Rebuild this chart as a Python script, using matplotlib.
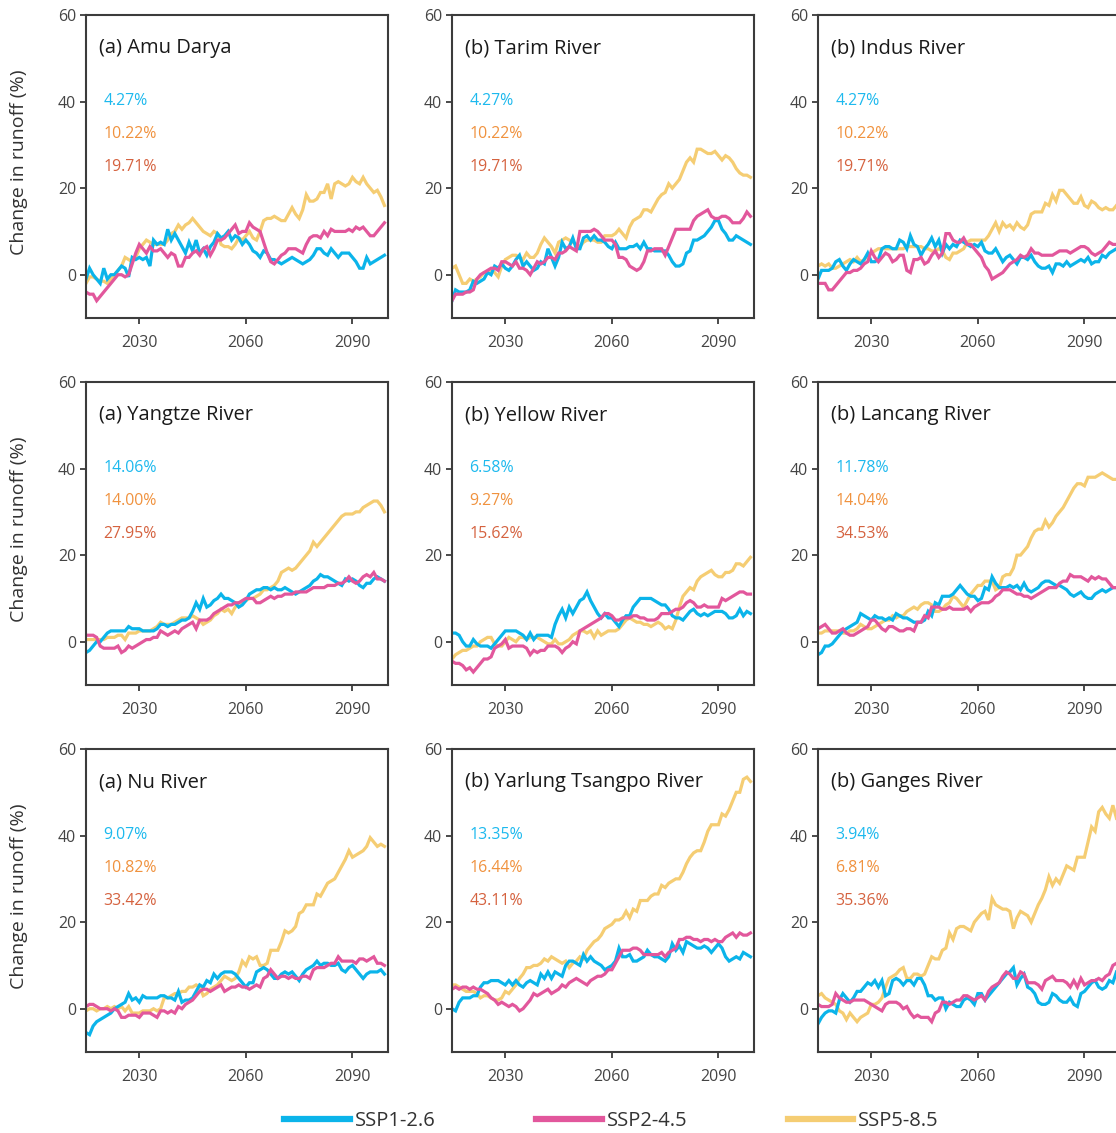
import numpy as np
import matplotlib
matplotlib.use("Agg")
import matplotlib.pyplot as plt
from matplotlib.lines import Line2D

plt.rcParams['font.family'] = ['Open Sans', 'DejaVu Sans']

years = np.arange(2015, 2100)

# yearly runoff change (%) per basin and scenario
amu_126 = [-1, 1.5, 0, -1, -2, 1.5, -1, 0, 0, 1,
           2, 1.5, -0.5, 4, 3.5, 4, 3.5, 4, 2, 8,
           7, 7.5, 7, 10.5, 8, 9.5, 8, 6.5, 5, 7.5,
           5.5, 8, 5, 6, 4.5, 6.5, 7.5, 9.5, 8.5, 9,
           10, 8, 9, 8.5, 7, 8, 7, 5.5, 5, 4,
           5.5, 5, 3.5, 3.5, 3, 2.5, 3, 3.5, 4, 3.5,
           3, 2.5, 3, 3.5, 4.5, 6, 6, 5, 4.5, 6,
           5, 4, 5, 5, 5, 4, 3, 1.5, 1.5, 4,
           2.5, 3, 3.5, 4, 4.5]
amu_245 = [-4, -4.5, -4.5, -6, -5, -4, -3, -2, -1, 0,
           0, -0.5, 0, 2.5, 5, 7, 6, 5, 6.5, 5.5,
           5.5, 6, 5, 4, 5, 4.5, 2, 2, 4, 4,
           5, 5.5, 4.5, 6, 6.5, 4.5, 6, 8, 8, 8.5,
           9.5, 10.5, 11.5, 9.5, 10, 10, 12, 11, 10.5, 10,
           7.5, 5, 3, 2.5, 3.5, 4.5, 5, 6, 6, 6,
           5.5, 5, 7, 8.5, 9, 9, 8.5, 10, 9, 10.5,
           10, 10, 10, 10, 10.5, 10, 11, 10.5, 11, 10,
           9, 9, 10, 11, 12]
amu_585 = [-2, -0.5, -0.5, -1, -1.5, -1.5, -2, -1, 0, 1,
           2, 4, 3.5, 3, 4, 6, 7, 8, 7.5, 7,
           7, 7, 7, 8, 9.5, 10, 11.5, 10.5, 11.5, 12,
           13, 12, 11, 10, 9.5, 9, 10, 9.5, 7, 6.5,
           6.5, 6, 7, 8.5, 8, 9, 10, 8.5, 8, 10,
           12.5, 13, 13, 13.5, 13, 12.5, 12.5, 14, 15.5, 14,
           13, 15, 18.5, 17, 17, 17.5, 19, 19, 21, 17.5,
           21, 21.5, 21, 20.5, 21, 22.5, 21.5, 21, 22.5, 21,
           20, 19, 19.5, 18, 16]

tarim_126 = [-6, -3.5, -4, -4, -4, -3.5, -1.5, -2, -1.5, -1,
             0.5, 0, 2, 1.5, 2.5, 1.5, 1, 2, 3.5, 4.5,
             2, 3, 2, 1, 1.5, 3, 2.5, 6, 4, 2,
             4, 7.5, 6, 6.5, 8.5, 6, 6, 8.5, 9, 8,
             9, 8, 8, 7.5, 6.5, 6, 7.5, 6, 6, 6,
             6.5, 6.5, 7, 6, 7.5, 6, 6, 5.5, 5.5, 5.5,
             5.5, 4.5, 3, 2, 2, 2.5, 5, 5.5, 8, 8,
             8.5, 9, 10, 11, 12.5, 12.5, 10.5, 9.5, 8, 8,
             9, 8.5, 8, 7.5, 7]
tarim_245 = [-6, -4.5, -4.5, -4.5, -4, -4, -3.5, -1, 0, 0.5,
             1, 1.5, 1.5, 1, 3, 3, 2.5, 2, 3, 1.5,
             1.5, 1, 0, 1.5, 3, 2.5, 3, 4, 4, 3.5,
             5, 5, 5.5, 6.5, 6, 5.5, 10, 10, 10, 10,
             10.5, 10, 9, 8, 8, 8, 7, 4, 4, 3.5,
             2, 1.5, 1, 1.5, 3, 5.5, 5.5, 6, 6, 6,
             4.5, 6.5, 8.5, 10.5, 10.5, 10.5, 10.5, 10.5, 12.5, 13.5,
             14, 14.5, 15, 13.5, 13, 13, 13.5, 13.5, 13, 12,
             12, 12, 13, 14.5, 13.5]
tarim_585 = [1.5, 2, 0, -2, -2, -1, -1.5, -1, -0.5, 0.5,
             0.5, 1, 0.5, -0.5, 2, 3.5, 4, 4.5, 4.5, 4,
             3.5, 5, 4, 4, 5, 7, 8.5, 7.5, 6.5, 5,
             7.5, 8, 8.5, 8, 7.5, 7, 6.5, 7.5, 8, 8,
             8, 7.5, 7.5, 9, 9, 9, 9.5, 10.5, 9.5, 8.5,
             11, 12.5, 13, 13.5, 15, 15, 14.5, 16, 17.5, 18.5,
             19, 21, 20, 21, 22, 24, 26, 27, 26, 29,
             29, 28.5, 28, 28, 28.5, 27.5, 26.5, 27.5, 27, 26,
             24.5, 23.5, 23, 23, 22.5]

indus_126 = [-1, 1, 1, 1, 1.5, 3, 3.5, 2, 1, 2.5,
             3.5, 3, 2.5, 3.5, 5, 3, 3, 3.5, 6, 6.5,
             6.5, 6, 6, 8, 7.5, 6, 9, 7, 6.5, 4.5,
             6, 7, 8.5, 6.5, 8, 5, 7, 6, 7, 6.5,
             8, 7.5, 7, 6.5, 7, 6.5, 7.5, 5.5, 5, 5,
             6, 4.5, 3, 4, 4.5, 3.5, 2.5, 4, 4, 3.5,
             4.5, 3, 2, 1.5, 1.5, 2, 0.5, 2.5, 2.5, 2,
             3, 2, 2.5, 3, 3.5, 3, 4, 2.5, 3, 3,
             4.5, 4, 5, 5.5, 6]
indus_245 = [-2, -2, -2, -3.5, -3.5, -2.5, -1.5, -0.5, 0.5, 0.5,
             1, 1, 1.5, 2.5, 3, 5.5, 4, 3, 4, 5,
             4.5, 3, 3.5, 4.5, 4.5, 1, 0.5, 3.5, 3.5, 4,
             2.5, 3, 4.5, 5.5, 4, 5, 9.5, 9.5, 8, 7.5,
             7.5, 8.5, 7, 7, 6, 5, 4, 2, 1, -1,
             -0.5, 0, 0.5, 1.5, 2.5, 3, 3.5, 4.5, 4, 4.5,
             6, 5, 5, 4.5, 4.5, 4.5, 4.5, 5, 5.5, 5.5,
             5.5, 5, 5.5, 6, 6.5, 6.5, 6, 5, 4.5, 5,
             5.5, 6.5, 7.5, 7, 7]
indus_585 = [2, 2.5, 2, 2.5, 1.5, 1.5, 2, 2.5, 3, 3.5,
             3, 4, 3, 3.5, 4.5, 5, 5.5, 6, 6, 6,
             6, 6, 6, 6, 6, 6.5, 6.5, 6.5, 6.5, 6.5,
             6, 6, 5.5, 5.5, 6, 5.5, 4, 3.5, 5, 5,
             5.5, 6, 7.5, 8, 8, 8, 8, 8, 9, 10.5,
             12, 10, 12, 11, 11.5, 10.5, 12, 11, 10.5, 11.5,
             14, 14.5, 14.5, 14.5, 16.5, 16, 18.5, 17, 19.5, 19.5,
             18.5, 17.5, 16.5, 16.5, 18, 16, 15.5, 17, 16.5, 15.5,
             15, 15.5, 15, 15, 16]

yangtze_126 = [-2.5, -2, -1, 0, 0, 1, 2, 2.5, 2.5, 2.5,
               2.5, 2.5, 3.5, 3, 3, 3, 2.5, 2.5, 2.5, 2.5,
               3, 4, 4, 3.5, 4, 4, 4.5, 5, 5, 5.5,
               7, 9, 7.5, 10, 8, 8.5, 9.5, 10, 11, 10,
               10, 9.5, 9, 8, 8.5, 9.5, 11, 11.5, 12, 12,
               12.5, 12.5, 12, 12.5, 12, 12, 12.5, 12, 11.5, 11,
               11.5, 12, 12.5, 13, 14, 14.5, 15.5, 15, 15, 14.5,
               14, 13.5, 13, 14.5, 14, 14.5, 14, 13, 12.5, 13.5,
               13.5, 14.5, 15, 14.5, 14]
yangtze_245 = [1.5, 1.5, 1.5, 1, -1, -1.5, -1.5, -1.5, -1.5, -1,
               -2.5, -2, -1, -1.5, -1, -0.5, 0, 0.5, 0.5, 1,
               1, 2.5, 2, 1.5, 2, 2.5, 2, 3, 3.5, 4,
               4.5, 3, 5, 5, 5, 5.5, 6.5, 7, 7.5, 8,
               8.5, 8.5, 9, 9, 9.5, 10, 10, 10, 9, 9,
               9.5, 10, 10.5, 10, 10.5, 10.5, 11, 11, 11, 11.5,
               11.5, 11.5, 11.5, 12, 12.5, 12.5, 12.5, 12.5, 13, 13,
               13, 13.5, 13.5, 14, 15, 14, 13.5, 14, 15, 15.5,
               15, 16, 14.5, 14.5, 14]
yangtze_585 = [0.5, 0.5, 0.5, 0.5, 0.5, 0.5, 1, 1, 1, 1.5,
               1.5, 0.5, 2, 2, 2, 2.5, 2.5, 2.5, 2.5, 3,
               3.5, 4.5, 4, 4, 4, 4.5, 5, 5.5, 5.5, 5.5,
               6, 5.5, 5, 4, 4.5, 5, 6, 6.5, 7.5, 7,
               7.5, 6.5, 8, 9, 9, 9.5, 10, 10, 10.5, 11,
               12, 12, 12.5, 13, 14, 16, 16.5, 17, 16.5, 17,
               18, 19, 20, 21, 23, 22, 23, 24, 25, 26,
               27, 28, 29, 29.5, 29.5, 29.5, 30, 30, 31, 31.5,
               32, 32.5, 32.5, 31.5, 30]

yellow_126 = [2, 2, 1.5, 0, -1, -1, 0.5, -0.5, -1, -1,
              -1, -1.5, -0.5, 0.5, 1.5, 2.5, 2.5, 2.5, 2.5, 2,
              1.5, 0.5, 2, 0.5, 1.5, 1.5, 1.5, 1.5, 1, 4,
              6, 7.5, 5.5, 8, 6.5, 8, 9.5, 10, 11.5, 9.5,
              8, 6.5, 5.5, 6.5, 5.5, 5.5, 4.5, 3.5, 5, 6,
              6, 8, 9, 10, 10, 10, 10, 9.5, 9, 8.5,
              8.5, 7.5, 6, 5.5, 5.5, 5, 6, 7, 7.5, 6.5,
              6, 6.5, 6, 6.5, 7, 7, 7, 6.5, 5.5, 5.5,
              6, 7.5, 6, 7, 6.5]
yellow_245 = [-4.5, -5, -5, -5.5, -6.5, -6, -7, -6, -5, -4,
              -4, -3.5, -1.5, -1, -0.5, 0.5, -1.5, -1, -1, -1,
              -1, -1.5, -3, -2, -2.5, -2, -2, -1, -1, -1,
              -1.5, -2.5, -1.5, -1, 0, -0.5, 2.5, 3, 3.5, 4,
              4.5, 5, 5.5, 6.5, 6.5, 6, 5, 5, 5.5, 5.5,
              5.5, 6, 6, 5.5, 5.5, 5, 5, 5, 5.5, 6.5,
              6.5, 6.5, 7, 7.5, 7.5, 8, 9, 9.5, 9, 8,
              8, 8.5, 8, 8, 8, 8, 10, 9.5, 10, 10.5,
              11, 11.5, 11.5, 11, 11]
yellow_585 = [-4, -3, -2.5, -2, -2, -1.5, -1, -1, 0, 0.5,
              1, 1, -0.5, -1, -1, 0, 1, 0.5, 0, 1,
              1, 0.5, 1, 1, 1, 0.5, 0, -0.5, -0.5, 0.5,
              -0.5, -0.5, 0, 0.5, 1.5, 2, 2.5, 2.5, 2, 2.5,
              1, 2.5, 1.5, 2, 2.5, 2.5, 2.5, 3, 4, 5,
              5.5, 5, 4.5, 4.5, 4, 4, 3.5, 4, 4.5, 4,
              3, 3.5, 3, 5, 8, 10.5, 11.5, 12.5, 12, 14,
              15, 15.5, 16, 16.5, 15.5, 15, 15, 16, 16, 16.5,
              18, 18, 17.5, 18.5, 19.5]

lancang_126 = [-3, -2.5, -1, -1, -0.5, 0.5, 1.5, 2.5, 3, 3.5,
               4, 4.5, 6.5, 6, 5.5, 5, 6, 5.5, 5.5, 5,
               5.5, 5, 6.5, 6, 5.5, 5.5, 5, 4.5, 4.5, 4.5,
               5, 7, 6, 9, 8.5, 10.5, 10.5, 10.5, 11, 12,
               13, 12, 11, 10.5, 10.5, 9.5, 10, 12.5, 12, 15,
               13.5, 12.5, 12.5, 12.5, 13, 12.5, 13, 12, 13.5, 12,
               11.5, 12, 12.5, 13.5, 14, 14, 13.5, 13, 13, 12.5,
               12, 11, 10.5, 11, 11.5, 10.5, 10, 10, 11, 11.5,
               12, 11.5, 12, 12.5, 12.5]
lancang_245 = [3, 3.5, 4, 3, 2, 2, 2.5, 3, 2, 1.5,
               1.5, 2, 2.5, 3, 3.5, 5, 5, 4, 3, 2.5,
               3.5, 3.5, 3, 2.5, 2.5, 3, 3, 2.5, 4.5, 4.5,
               6, 5.5, 8, 8, 8, 7.5, 7.5, 8, 7.5, 7.5,
               7.5, 7.5, 8, 7, 8, 8.5, 9, 9, 9, 9.5,
               10.5, 11, 12, 12, 12, 11.5, 11, 11, 10.5, 10.5,
               10, 10.5, 11, 11.5, 12, 12.5, 12.5, 12.5, 13.5, 14,
               14, 15.5, 15, 15, 15, 14.5, 14, 15, 14.5, 15,
               14.5, 14.5, 13.5, 12.5, 12.5]
lancang_585 = [2, 2, 2.5, 2.5, 2.5, 2.5, 2.5, 2, 2, 2.5,
               2.5, 3, 4, 3.5, 3, 3, 3.5, 4, 4.5, 5,
               5, 6, 5.5, 6, 6, 7, 7.5, 8, 7.5, 8.5,
               9, 9, 8.5, 7, 7, 7.5, 8.5, 9, 10.5, 10,
               9, 8, 9.5, 11, 12, 13, 13, 14, 14, 14,
               12, 12.5, 15, 15.5, 15.5, 17, 20, 20, 21, 22,
               24, 25.5, 26, 26, 28, 26.5, 27.5, 29, 30, 31,
               32.5, 34, 35.5, 36.5, 36.5, 36, 38, 38, 38, 38.5,
               39, 38.5, 38, 37.5, 37.5]

nu_126 = [-5.5, -6, -4, -3, -2.5, -2, -1.5, -1, 0, 0.5,
          1, 1.5, 3.5, 2, 2.5, 1.5, 3, 2.5, 2.5, 2.5,
          2.5, 3, 3, 2.5, 2.5, 2, 4, 1.5, 2, 2,
          2.5, 4, 5.5, 5, 6.5, 6, 8, 7, 8, 8.5,
          8.5, 8.5, 8, 7, 6, 5, 6, 6, 8.5, 9,
          9.5, 9, 8, 7, 7, 8, 8.5, 8, 8.5, 7.5,
          6.5, 8, 9, 9.5, 10, 11, 10, 10.5, 10.5, 10,
          10, 10.5, 9, 8.5, 9.5, 10, 9, 8, 7, 8,
          8.5, 8.5, 8.5, 9, 8]
nu_245 = [0.5, 1, 1, 0.5, 0, 0, 0, -0.5, 0, -0.5,
          -2, -2, -1.5, -1.5, -1.5, -2, -1, -1, -1, -1.5,
          -2, -0.5, -0.5, -1, -0.5, -1, 0.5, 0, 1, 1.5,
          2, 3, 4, 4.5, 4.5, 4, 4.5, 5, 5.5, 4,
          4.5, 5, 5, 5.5, 5, 5, 4.5, 5, 5.5, 5,
          7, 7.5, 9, 8, 7, 7.5, 7.5, 7, 7.5, 7,
          7, 7.5, 7.5, 7, 9, 9.5, 9.5, 9.5, 10, 10.5,
          10.5, 12, 11, 11, 11, 11, 10.5, 11.5, 11.5, 11,
          11.5, 12, 10.5, 10.5, 10]
nu_585 = [-0.5, 0, 0, -0.5, 0, 0, 0.5, 0, 0.5, 0,
          0.5, -0.5, 0.5, -1, -1, -1, -0.5, -0.5, -0.5, 0,
          -0.5, 0, 2.5, 2.5, 3, 3.5, 3.5, 4, 4, 5,
          5, 5.5, 5, 3, 3.5, 4.5, 5, 5.5, 6.5, 7.5,
          7, 6.5, 7, 8.5, 11, 10, 12, 11.5, 12, 10,
          10, 10.5, 13.5, 13.5, 13.5, 15.5, 18, 17.5, 18, 19,
          22, 22.5, 24, 24, 24, 26.5, 26, 27.5, 29, 29.5,
          30, 31.5, 33, 34.5, 36.5, 35, 35.5, 36, 36.5, 37.5,
          39.5, 38.5, 37.5, 38, 37.5]

yarlung_126 = [0, -0.5, 1.5, 2.5, 2.5, 2.5, 3, 3, 5, 6,
               6, 6.5, 6.5, 6.5, 6, 5.5, 6.5, 5.5, 6.5, 5.5,
               5, 6, 6.5, 6, 5.5, 8, 7, 8.5, 7, 8.5,
               8, 7.5, 10, 11, 11, 10.5, 10, 12.5, 11, 12,
               11, 10.5, 10, 9, 9.5, 10, 11, 14, 12, 12,
               12.5, 11, 11, 11.5, 12, 13.5, 12.5, 12, 12, 11.5,
               11, 12, 15, 13.5, 14.5, 13, 15.5, 15, 14.5, 14,
               14, 14.5, 14, 13, 14, 15, 14, 12, 11, 11.5,
               12, 11.5, 13, 12.5, 12]
yarlung_245 = [4.5, 5, 4.5, 5, 5, 4.5, 5, 4.5, 4.5, 4,
               3.5, 2.5, 2, 1, 1.5, 1, 0.5, 1, 0.5, -0.5,
               0, 1, 2, 3.5, 3, 3.5, 4, 4.5, 3.5, 4,
               4.5, 5.5, 5, 6, 6.5, 7, 6.5, 6, 5.5, 6.5,
               7, 7.5, 7.5, 8, 9, 9, 10.5, 12, 13.5, 13.5,
               13.5, 14, 14, 13.5, 12.5, 12.5, 12.5, 12.5, 12.5, 13,
               12, 13, 13.5, 14, 16, 16, 16.5, 16.5, 16, 16,
               15.5, 16, 16, 15.5, 16, 15.5, 15.5, 16.5, 17, 17.5,
               16.5, 17.5, 17, 17, 17.5]
yarlung_585 = [5.5, 5.5, 5, 4.5, 4, 4, 4, 3.5, 2.5, 3,
               3, 2.5, 2, 2, 2.5, 4, 3.5, 4.5, 5.5, 7,
               8, 9.5, 9.5, 10, 10, 10.5, 11.5, 11, 12, 11.5,
               11, 10.5, 11, 9.5, 10.5, 11, 12, 11.5, 13.5, 14.5,
               15.5, 16, 17, 18.5, 19, 19.5, 20.5, 20.5, 21, 22.5,
               21, 23, 22.5, 25, 25, 25, 26, 26.5, 26.5, 28.5,
               28, 29, 29.5, 30, 30, 31.5, 33.5, 35, 36, 36.5,
               36.5, 38.5, 41, 42.5, 42.5, 42.5, 45, 44.5, 46, 48,
               50, 50, 53, 53.5, 52.5]

ganges_126 = [-3.5, -2, -1, -0.5, -0.5, -1, 2, 3.5, 2.5, 1.5,
              2.5, 4, 4, 5, 6, 5.5, 6.5, 5, 6.5, 3,
              3.5, 6.5, 7, 6.5, 5.5, 6.5, 6.5, 5.5, 7, 7,
              5.5, 3, 3, 2, 2.5, 2.5, 0, 1.5, 1, 0.5,
              0.5, 2, 2.5, 2, 1, 3.5, 3.5, 2, 3, 4,
              5, 6, 7, 8, 8.5, 9.5, 5.5, 7, 8, 5,
              4.5, 3.5, 1.5, 1, 1, 1.5, 3.5, 3, 2, 1.5,
              1.5, 2.5, 1, 0.5, 3.5, 4, 5, 6, 6.5, 5,
              4.5, 5, 6.5, 6, 8.5]
ganges_245 = [1, 0.5, 0.5, 0.5, 1, 3.5, 2.5, 2, 1.5, 1.5,
              2, 2, 2, 2, 1.5, 1, 0.5, 0, -0.5, 1,
              1.5, 1.5, 1.5, 1, 0, 0.5, -1, -2, -1.5, -2,
              -2, -2, -3, -1, -0.5, 1.5, 1.5, 1, 1.5, 2,
              2, 3, 3, 2.5, 2, 2.5, 3, 2, 4, 5,
              5.5, 6, 7.5, 8.5, 8, 7, 7, 8.5, 8, 6,
              6, 6, 5.5, 4.5, 6.5, 7, 7.5, 6.5, 6.5, 6.5,
              6, 5, 6.5, 5, 7, 5.5, 6, 6.5, 6.5, 7,
              6.5, 7.5, 8, 10, 10.5]
ganges_585 = [3, 3.5, 2.5, 2, 1.5, 1, -0.5, -1, -2.5, -1,
              -2, -3, -2, -1.5, -1, 1, 1, 1.5, 2.5, 5,
              7, 7.5, 8, 9, 9.5, 7, 7, 8, 8, 7.5,
              8, 10, 12, 11.5, 11.5, 13.5, 14, 17.5, 16, 18.5,
              19, 19, 18.5, 18, 20, 21, 22, 22.5, 20.5, 25.5,
              24, 23.5, 23, 23, 22.5, 18.5, 21, 22.5, 22, 21.5,
              20, 22, 24, 25.5, 27.5, 30.5, 28.5, 30, 29, 31,
              33, 32.5, 32, 35, 35, 35, 38.5, 42, 41, 45.5,
              46.5, 45, 44, 47, 44]

titles = ["(a) Amu Darya", "(b) Tarim River", "(b) Indus River",
          "(a) Yangtze River", "(b) Yellow River", "(b) Lancang River",
          "(a) Nu River", "(b) Yarlung Tsangpo River", "(b) Ganges River"]
pct_labels = [["4.27%", "10.22%", "19.71%"],
              ["4.27%", "10.22%", "19.71%"],
              ["4.27%", "10.22%", "19.71%"],
              ["14.06%", "14.00%", "27.95%"],
              ["6.58%", "9.27%", "15.62%"],
              ["11.78%", "14.04%", "34.53%"],
              ["9.07%", "10.82%", "33.42%"],
              ["13.35%", "16.44%", "43.11%"],
              ["3.94%", "6.81%", "35.36%"]]
scenarios = ["SSP1-2.6", "SSP2-4.5", "SSP5-8.5"]

series = [
    (amu_126, amu_245, amu_585),
    (tarim_126, tarim_245, tarim_585),
    (indus_126, indus_245, indus_585),
    (yangtze_126, yangtze_245, yangtze_585),
    (yellow_126, yellow_245, yellow_585),
    (lancang_126, lancang_245, lancang_585),
    (nu_126, nu_245, nu_585),
    (yarlung_126, yarlung_245, yarlung_585),
    (ganges_126, ganges_245, ganges_585),
]

line_colors = ["#0BB4EA", "#E2579C", "#F5CD73"]
pct_colors = ["#1DB9EE", "#F0923E", "#D5623F"]
axis_grey = "#3c3c3c"

W, H = 1116, 1133
fig = plt.figure(figsize=(W / 100, H / 100), dpi=100)

col_left = [86, 452, 818]
row_top = [15, 382, 749]
ax_w, ax_h = 302, 303

for i, (title, pcts, data) in enumerate(zip(titles, pct_labels, series)):
    r, c = divmod(i, 3)
    ax = fig.add_axes([col_left[c] / W, 1 - (row_top[r] + ax_h) / H, ax_w / W, ax_h / H])
    # SSP5-8.5 underneath, then SSP1-2.6, SSP2-4.5 on top
    for k in (2, 0, 1):
        ax.plot(years, data[k], color=line_colors[k], lw=2.3, solid_joinstyle="miter")
    ax.set_xlim(2015, 2100)
    ax.set_ylim(-10, 60)
    ax.set_xticks([2030, 2060, 2090])
    ax.set_yticks([0, 20, 40, 60])
    for sp in ax.spines.values():
        sp.set_color(axis_grey)
        sp.set_linewidth(1.5)
    ax.tick_params(colors=axis_grey, labelcolor="#444444", labelsize=11.5,
                   length=4, width=1.3)
    ax.tick_params(axis="x", pad=8)
    ax.tick_params(axis="y", pad=3)
    ax.text(0.043, 0.891, title, transform=ax.transAxes, fontsize=14.5,
            color="#1a1a1a", va="center", ha="left")
    for j, (txt, yy) in enumerate(zip(pcts, [0.716, 0.607, 0.498])):
        ax.text(0.057, yy, txt, transform=ax.transAxes, fontsize=11.4,
                color=pct_colors[j], va="center", ha="left")

for r in range(3):
    yc = 1 - (row_top[r] + ax_h / 2 - 4) / H
    fig.text(19 / W, yc, "Change in runoff (%)", rotation=90, fontsize=14,
             color="#333333", ha="center", va="center")

handles = [Line2D([], [], color=col, lw=4.5) for col in line_colors]
fig.legend(handles, scenarios, loc="center", bbox_to_anchor=(0.548, 1 - 1121 / H),
           ncol=3, frameon=False, fontsize=14.5, handlelength=3.25,
           handletextpad=0.25, columnspacing=5.0, labelcolor="#333333")

fig.savefig("out.png", dpi=100)
